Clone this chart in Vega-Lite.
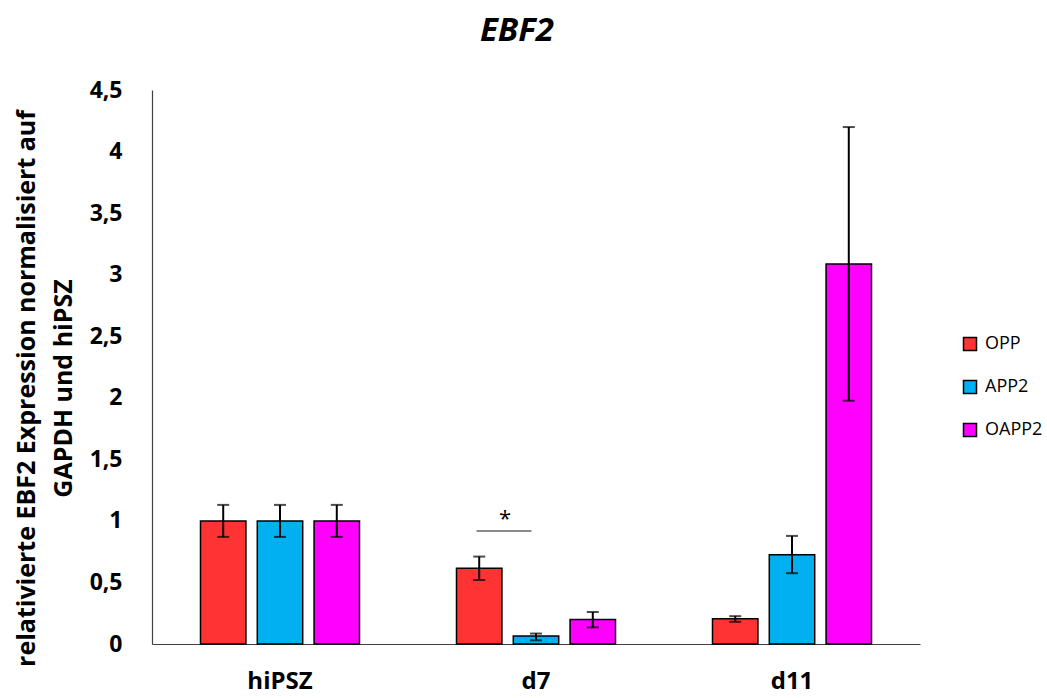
{
  "$schema": "https://vega.github.io/schema/vega-lite/v6.json",
  "autosize": {"type": "none"},
  "padding": {"left": 152, "top": 90, "right": 127, "bottom": 54},
  "width": 768,
  "height": 554,
  "background": "white",
  "config": {"view": {"stroke": null}, "font": "Open Sans"},
  "title": {
    "text": "EBF2",
    "font": "Open Sans",
    "fontSize": 33,
    "fontWeight": "bold",
    "fontStyle": "italic",
    "color": "black",
    "anchor": "middle",
    "dx": -19,
    "offset": 31
  },
  "datasets": {
    "bars": [
      {"cat": "hiPSZ", "grp": "OPP", "value": 1, "lo": 0.87, "hi": 1.13},
      {"cat": "hiPSZ", "grp": "APP2", "value": 1, "lo": 0.87, "hi": 1.13},
      {"cat": "hiPSZ", "grp": "OAPP2", "value": 1, "lo": 0.87, "hi": 1.13},
      {"cat": "d7", "grp": "OPP", "value": 0.615, "lo": 0.52, "hi": 0.71},
      {"cat": "d7", "grp": "APP2", "value": 0.065, "lo": 0.03, "hi": 0.085},
      {"cat": "d7", "grp": "OAPP2", "value": 0.2, "lo": 0.135, "hi": 0.26},
      {"cat": "d11", "grp": "OPP", "value": 0.205, "lo": 0.18, "hi": 0.226},
      {"cat": "d11", "grp": "APP2", "value": 0.724, "lo": 0.575, "hi": 0.878},
      {"cat": "d11", "grp": "OAPP2", "value": 3.086, "lo": 1.976, "hi": 4.199}
    ],
    "sig": [
      {"cat": "d7", "line": 0.918, "star": 0.955, "label": "*"}
    ]
  },
  "encoding": {
    "x": {
      "field": "cat",
      "type": "nominal",
      "sort": ["hiPSZ", "d7", "d11"],
      "scale": {"domain": ["hiPSZ", "d7", "d11"], "paddingInner": 0, "paddingOuter": 0},
      "axis": {
        "title": null,
        "labelAngle": 0,
        "labelFont": "Open Sans",
        "labelFontSize": 24,
        "labelFontWeight": "bold",
        "labelColor": "black",
        "labelPadding": 25,
        "ticks": false,
        "domainColor": "#404040",
        "domainWidth": 1.2
      }
    }
  },
  "layer": [
    {
      "data": {"name": "bars"},
      "mark": {"type": "bar", "stroke": "black", "strokeWidth": 1.5},
      "encoding": {
        "xOffset": {
          "field": "grp",
          "type": "nominal",
          "sort": ["OPP", "APP2", "OAPP2"],
          "scale": {"domain": ["OPP", "APP2", "OAPP2"], "paddingInner": 0.2, "paddingOuter": 0.854}
        },
        "y": {
          "field": "value",
          "type": "quantitative",
          "scale": {"domain": [0, 4.5], "nice": false},
          "axis": {
            "values": [0, 0.5, 1, 1.5, 2, 2.5, 3, 3.5, 4, 4.5],
            "labelExpr": "replace(format(datum.value, '~g'), '.', ',')",
            "grid": false,
            "ticks": false,
            "domainColor": "#404040",
            "domainWidth": 1.2,
            "labelFont": "Open Sans",
            "labelFontSize": 23,
            "labelFontWeight": "bold",
            "labelColor": "black",
            "labelPadding": 30,
            "labelBaseline": "middle",
            "title": ["relativierte EBF2 Expression normalisiert auf", "GAPDH und hiPSZ"],
            "titleFont": "Open Sans",
            "titleFontSize": 25,
            "titleFontWeight": "bold",
            "titleColor": "black",
            "titleAngle": 270,
            "titleAlign": "center",
            "titleBaseline": "middle",
            "titleLineHeight": 37,
            "titleX": -126,
            "titleY": 298
          }
        },
        "fill": {
          "field": "grp",
          "type": "nominal",
          "sort": ["OPP", "APP2", "OAPP2"],
          "scale": {"domain": ["OPP", "APP2", "OAPP2"], "range": ["#FF3333", "#00B0F0", "#FF00FF"]},
          "legend": {
            "title": null,
            "orient": "none",
            "legendX": 809,
            "legendY": 245,
            "padding": 0,
            "symbolType": "square",
            "symbolSize": 169,
            "symbolStrokeColor": "black",
            "symbolStrokeWidth": 1.5,
            "labelFont": "Open Sans",
            "labelFontSize": 18,
            "labelColor": "black",
            "labelOffset": 6,
            "rowPadding": 23
          }
        }
      }
    },
    {
      "data": {"name": "bars"},
      "mark": {"type": "rule", "color": "black", "strokeWidth": 2},
      "encoding": {
        "xOffset": {"field": "grp", "type": "nominal", "sort": ["OPP", "APP2", "OAPP2"]},
        "y": {"field": "lo", "type": "quantitative"},
        "y2": {"field": "hi"}
      }
    },
    {
      "data": {"name": "bars"},
      "mark": {"type": "tick", "orient": "horizontal", "color": "black", "size": 12, "thickness": 2},
      "encoding": {
        "xOffset": {"field": "grp", "type": "nominal", "sort": ["OPP", "APP2", "OAPP2"]},
        "y": {"field": "lo", "type": "quantitative"}
      }
    },
    {
      "data": {"name": "bars"},
      "mark": {"type": "tick", "orient": "horizontal", "color": "black", "size": 12, "thickness": 2},
      "encoding": {
        "xOffset": {"field": "grp", "type": "nominal", "sort": ["OPP", "APP2", "OAPP2"]},
        "y": {"field": "hi", "type": "quantitative"}
      }
    },
    {
      "data": {"name": "sig"},
      "mark": {"type": "tick", "orient": "horizontal", "color": "#222222", "size": 55, "thickness": 1.5, "xOffset": -32},
      "encoding": {"y": {"field": "line", "type": "quantitative"}}
    },
    {
      "data": {"name": "sig"},
      "mark": {"type": "text", "fontSize": 22, "font": "Open Sans", "color": "black", "baseline": "alphabetic", "dx": -31},
      "encoding": {
        "y": {"field": "star", "type": "quantitative"},
        "text": {"field": "label"}
      }
    }
  ]
}
